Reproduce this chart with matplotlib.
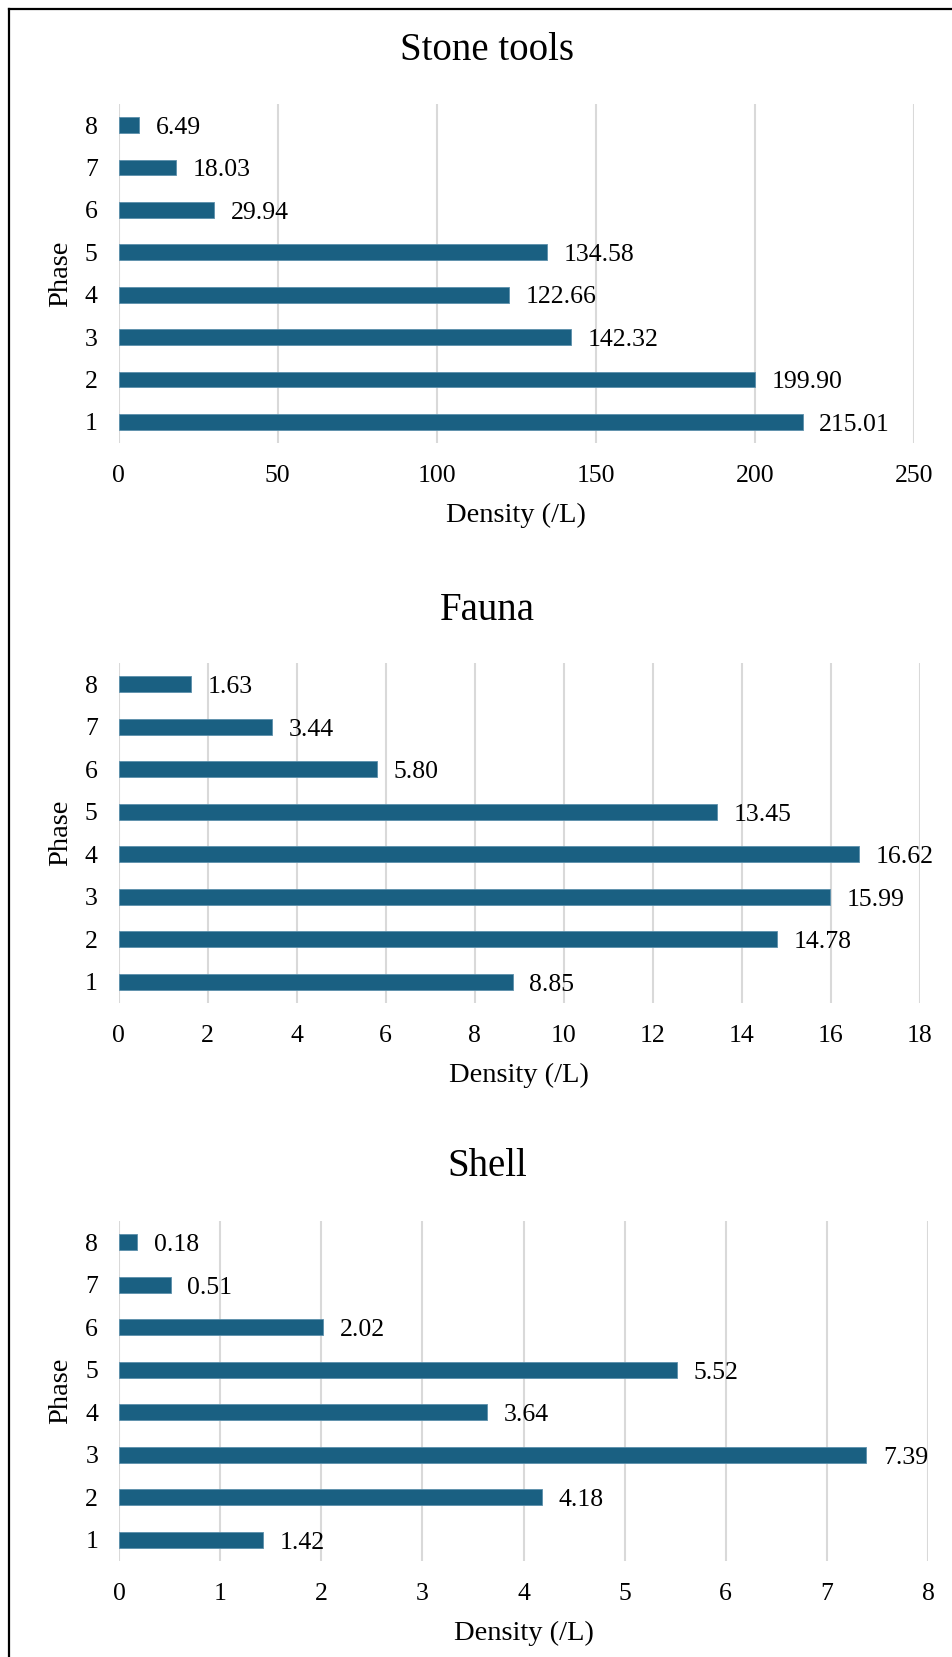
import matplotlib

matplotlib.use("Agg")
import matplotlib.pyplot as plt
from matplotlib.lines import Line2D

phases = ["1", "2", "3", "4", "5", "6", "7", "8"]
stone_tools = [215.01, 199.90, 142.32, 122.66, 134.58, 29.94, 18.03, 6.49]
fauna = [8.85, 14.78, 15.99, 16.62, 13.45, 5.80, 3.44, 1.63]
shell = [1.42, 4.18, 7.39, 3.64, 5.52, 2.02, 0.51, 0.18]

stone_ticks = [0, 50, 100, 150, 200, 250]
fauna_ticks = [0, 2, 4, 6, 8, 10, 12, 14, 16, 18]
shell_ticks = [0, 1, 2, 3, 4, 5, 6, 7, 8]

BAR = "#1a6082"
GRID = "#d9d9d9"
W, H = 952, 1657

plt.rcParams["font.family"] = ["Liberation Serif", "DejaVu Serif"]

fig = plt.figure(figsize=(W / 100, H / 100), dpi=100)

# panel layout in pixels: (title y, axes left, axes right, axes top, axes bottom)
panels = [
    ("Stone tools", stone_tools, stone_ticks, 51, 118.5, 914, 104, 443),
    ("Fauna", fauna, fauna_ticks, 611, 118.5, 920, 663, 1003),
    ("Shell", shell, shell_ticks, 1167, 119, 928, 1221, 1561),
]

for title, values, ticks, ty, x0, x1, y0, y1 in panels:
    ax = fig.add_axes([x0 / W, 1 - y1 / H, (x1 - x0) / W, (y1 - y0) / H])
    pos = range(len(phases))
    bars = ax.barh(pos, values, height=0.37, color=BAR, edgecolor="#5b8fab",
                   linewidth=0.6, zorder=3)
    for bar, v in zip(bars, values):
        ax.annotate(f"{v:.2f}", (bar.get_width(), bar.get_y() + bar.get_height() / 2),
                    xytext=(12, -2), textcoords="offset points",
                    ha="left", va="center", fontsize=18.5)
    ax.set_xlim(ticks[0], ticks[-1])
    ax.set_ylim(-0.5, len(phases) - 0.5)
    ax.set_xticks(ticks)
    ax.set_yticks(list(pos))
    ax.set_yticklabels(phases)
    ax.tick_params(length=0, labelsize=18.5)
    ax.tick_params(axis="x", pad=16)
    ax.tick_params(axis="y", pad=15)
    ax.grid(True, axis="x", color=GRID, linewidth=1.5, zorder=0)
    for s in ax.spines.values():
        s.set_visible(False)
    ax.set_xlabel("Density (/L)", fontsize=20.5, va="center")
    ax.xaxis.set_label_coords(0.5, -72 / (y1 - y0))
    ax.set_ylabel("Phase", fontsize=20.5, va="center")
    ax.yaxis.set_label_coords(-(x0 - 61) / (x1 - x0), 0.5)
    fig.text(487 / W, 1 - ty / H, title, ha="center", va="center", fontsize=28)

# outer frame: only top and left edges are visible in the crop
fig.add_artist(Line2D([9 / W, 9 / W], [0, 1 - 9 / H], color="black", linewidth=1.6,
                      transform=fig.transFigure))
fig.add_artist(Line2D([9 / W, 1], [1 - 9 / H, 1 - 9 / H], color="black", linewidth=1.6,
                      transform=fig.transFigure))

fig.savefig("out.png", dpi=100)
